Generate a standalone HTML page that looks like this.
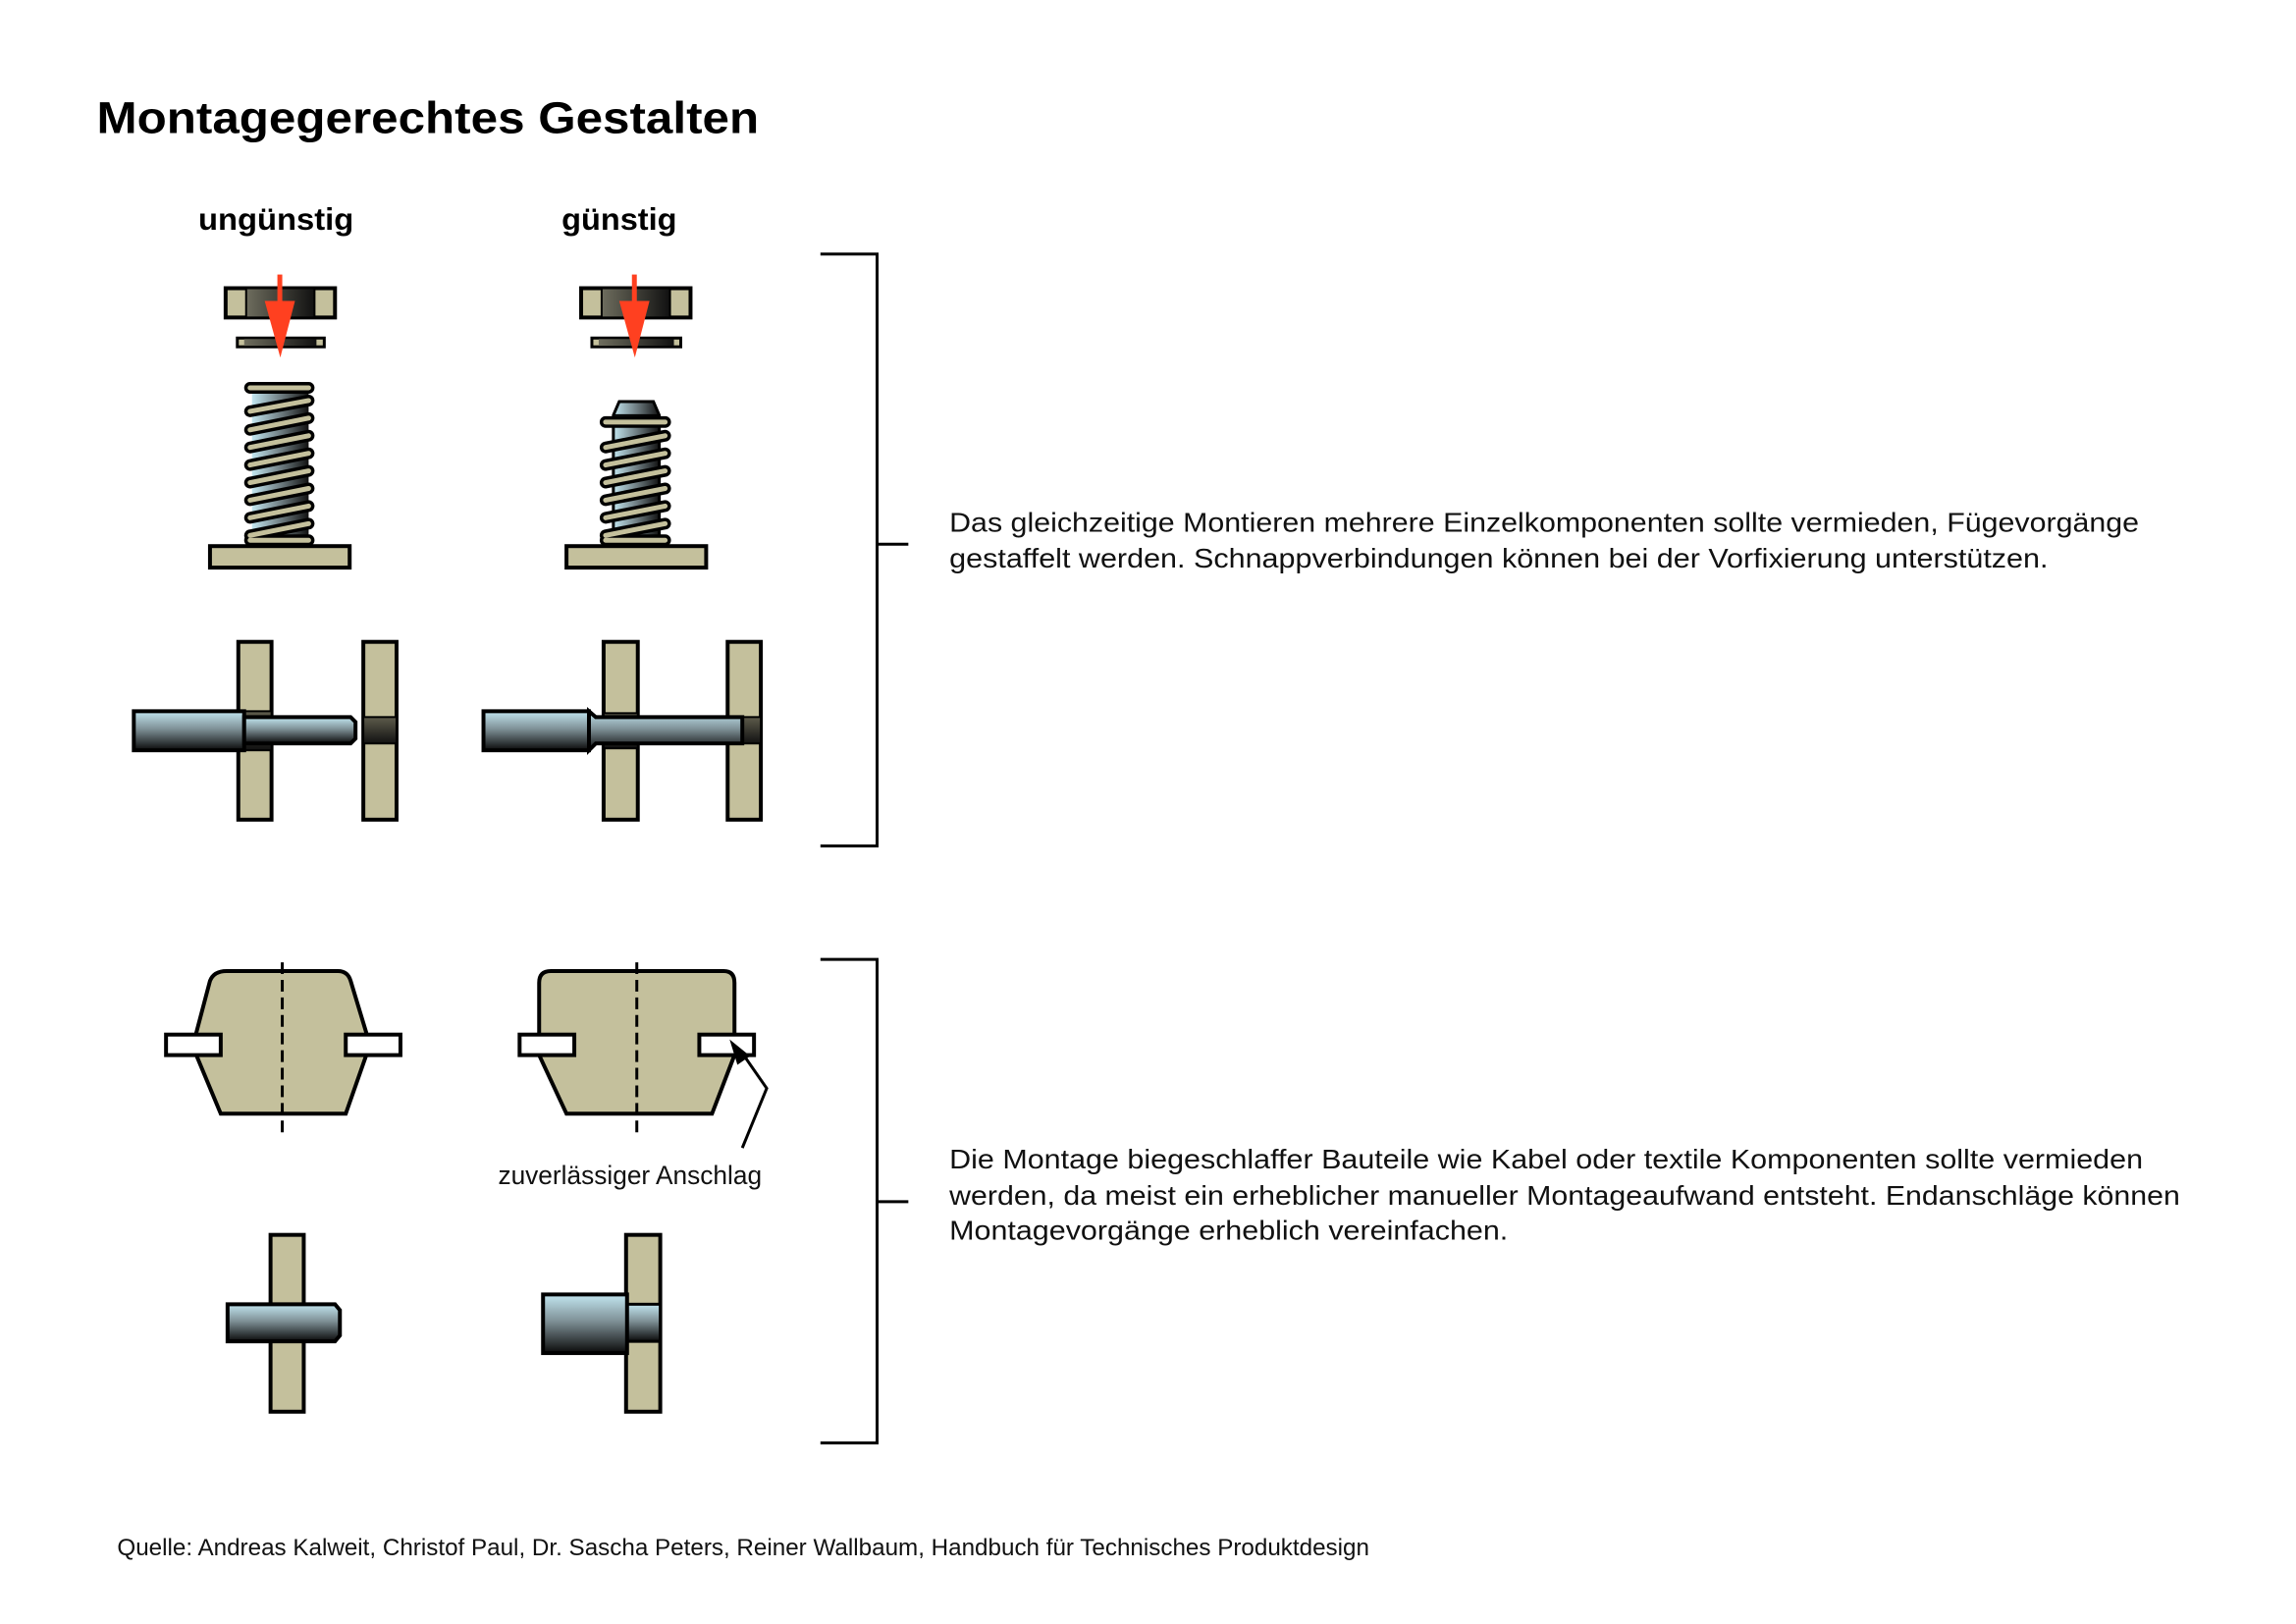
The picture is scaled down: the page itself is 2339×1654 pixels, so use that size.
<!DOCTYPE html>
<html><head><meta charset="utf-8"><style>html,body{margin:0;padding:0;background:#fff}svg{display:block}</style></head>
<body>
<svg width="2339" height="1654" viewBox="0 0 2339 1654" xmlns="http://www.w3.org/2000/svg" font-family="Liberation Sans, sans-serif">
<defs>
<linearGradient id="pin" x1="0" y1="0" x2="0" y2="1"><stop offset="0" stop-color="#c2e6f0"/><stop offset="0.45" stop-color="#7f9197"/><stop offset="1" stop-color="#0a0a0a"/></linearGradient>
<linearGradient id="rod" x1="0" y1="0" x2="1" y2="0"><stop offset="0" stop-color="#c2e6f0"/><stop offset="0.5" stop-color="#707f84"/><stop offset="1" stop-color="#111"/></linearGradient>
<linearGradient id="nut" x1="0" y1="0" x2="1" y2="0"><stop offset="0" stop-color="#6e6d5e"/><stop offset="1" stop-color="#111"/></linearGradient>
<linearGradient id="dk" x1="0" y1="0" x2="0" y2="1"><stop offset="0" stop-color="#5e5c4c"/><stop offset="1" stop-color="#111"/></linearGradient>
</defs>
<g transform="scale(0.995)">
<text x="99" y="136" font-size="46" font-weight="bold" textLength="678" lengthAdjust="spacingAndGlyphs">Montagegerechtes Gestalten</text>
<text x="203" y="235" font-size="32" font-weight="bold" textLength="159" lengthAdjust="spacingAndGlyphs">ungünstig</text>
<text x="575" y="235" font-size="32" font-weight="bold" textLength="118" lengthAdjust="spacingAndGlyphs">günstig</text>

<g stroke="#000" stroke-width="4">
<rect x="231" y="295" width="112" height="30" fill="#c4c09c"/>
<rect x="252" y="295" width="70" height="30" fill="url(#nut)" stroke-width="2"/>
<rect x="243" y="346" width="89" height="9" fill="#c4c09c" stroke-width="3"/>
<rect x="250" y="347" width="74" height="7" fill="url(#nut)" stroke="none"/>
<rect x="595" y="295" width="112" height="30" fill="#c4c09c"/>
<rect x="616" y="295" width="70" height="30" fill="url(#nut)" stroke-width="2"/>
<rect x="606" y="346" width="91" height="9" fill="#c4c09c" stroke-width="3"/>
<rect x="613" y="347" width="77" height="7" fill="url(#nut)" stroke="none"/>
</g>
<g fill="#ff4020" stroke="none">
<rect x="284" y="281" width="5" height="30"/><polygon points="271,308 302,308 287,366"/>
<rect x="647" y="281" width="5" height="30"/><polygon points="634,308 665,308 650,366"/>
</g>

<rect x="258" y="400" width="58" height="155" fill="url(#rod)"/>
<g fill="none" stroke-linecap="round">
<g stroke="#000" stroke-width="12">
<line x1="256" y1="397" x2="316" y2="397"/>
<line x1="256" y1="421" x2="316" y2="410"/>
<line x1="256" y1="440" x2="316" y2="428"/>
<line x1="256" y1="458" x2="316" y2="446"/>
<line x1="256" y1="476" x2="316" y2="464"/>
<line x1="256" y1="494" x2="316" y2="482"/>
<line x1="256" y1="512" x2="316" y2="500"/>
<line x1="256" y1="530" x2="316" y2="518"/>
<line x1="256" y1="548" x2="316" y2="536"/>
<line x1="256" y1="553" x2="316" y2="553"/>
</g>
<g stroke="#c4c09c" stroke-width="5">
<line x1="256" y1="397" x2="316" y2="397"/>
<line x1="256" y1="421" x2="316" y2="410"/>
<line x1="256" y1="440" x2="316" y2="428"/>
<line x1="256" y1="458" x2="316" y2="446"/>
<line x1="256" y1="476" x2="316" y2="464"/>
<line x1="256" y1="494" x2="316" y2="482"/>
<line x1="256" y1="512" x2="316" y2="500"/>
<line x1="256" y1="530" x2="316" y2="518"/>
<line x1="256" y1="548" x2="316" y2="536"/>
<line x1="256" y1="553" x2="316" y2="553"/>
</g>
</g>
<rect x="215" y="559" width="143" height="22" fill="#c4c09c" stroke="#000" stroke-width="4"/>

<polygon points="628,425 634,411 669,411 675,425 675,555 628,555" fill="url(#rod)" stroke="#000" stroke-width="3"/>
<line x1="628" y1="425" x2="675" y2="425" stroke="#000" stroke-width="2"/>
<g fill="none" stroke-linecap="round">
<g stroke="#000" stroke-width="12">
<line x1="620" y1="432" x2="681" y2="432"/>
<line x1="620" y1="458" x2="681" y2="446"/>
<line x1="620" y1="476" x2="681" y2="464"/>
<line x1="620" y1="494" x2="681" y2="482"/>
<line x1="620" y1="512" x2="681" y2="500"/>
<line x1="620" y1="530" x2="681" y2="518"/>
<line x1="620" y1="548" x2="681" y2="536"/>
<line x1="620" y1="553" x2="681" y2="553"/>
</g>
<g stroke="#c4c09c" stroke-width="5">
<line x1="620" y1="432" x2="681" y2="432"/>
<line x1="620" y1="458" x2="681" y2="446"/>
<line x1="620" y1="476" x2="681" y2="464"/>
<line x1="620" y1="494" x2="681" y2="482"/>
<line x1="620" y1="512" x2="681" y2="500"/>
<line x1="620" y1="530" x2="681" y2="518"/>
<line x1="620" y1="548" x2="681" y2="536"/>
<line x1="620" y1="553" x2="681" y2="553"/>
</g>
</g>
<rect x="580" y="559" width="143" height="22" fill="#c4c09c" stroke="#000" stroke-width="4"/>

<g stroke="#000" stroke-width="4">
<rect x="244" y="657" width="34" height="182" fill="#c4c09c"/>
<rect x="372" y="657" width="34" height="182" fill="#c4c09c"/>
<rect x="244" y="728" width="34" height="40" fill="url(#dk)" stroke-width="2"/>
<rect x="372" y="734" width="34" height="27" fill="url(#dk)" stroke-width="2"/>
<rect x="137" y="728" width="113" height="40" fill="url(#pin)"/>
<path d="M250,734 H359 L364,739 V756 L359,761 H250 Z" fill="url(#pin)"/>
<rect x="618" y="657" width="35" height="182" fill="#c4c09c"/>
<rect x="745" y="657" width="34" height="182" fill="#c4c09c"/>
<rect x="618" y="730" width="35" height="36" fill="url(#dk)" stroke-width="2"/>
<rect x="758" y="734" width="21" height="27" fill="url(#dk)" stroke-width="2"/>
<rect x="495" y="728" width="108" height="40" fill="url(#pin)"/>
<path d="M603,728 L610,734 H760 V761 H610 L603,768 Z" fill="url(#pin)"/>
</g>

<path d="M840,260 H898 V866 H840 M898,557 H930" fill="none" stroke="#000" stroke-width="3"/>
<text font-size="28" fill="#111"><tspan x="972" y="544" textLength="1218" lengthAdjust="spacingAndGlyphs">Das gleichzeitige Montieren mehrere Einzelkomponenten sollte vermieden, Fügevorgänge</tspan><tspan x="972" y="581" textLength="1125" lengthAdjust="spacingAndGlyphs">gestaffelt werden. Schnappverbindungen können bei der Vorfixierung unterstützen.</tspan></text>

<g stroke="#000" stroke-width="4">
<path d="M232,994 H346 Q356,994 359,1004 L375,1057 L375,1080 L354,1140 H226 L201,1080 V1057 L215,1004 Q219,994 232,994 Z" fill="#c4c09c"/>
<rect x="170" y="1059" width="56" height="21" fill="#fff"/>
<rect x="354" y="1059" width="56" height="21" fill="#fff"/>
<path d="M564,994 H741 Q752,994 752,1006 V1080 L729,1140 H580 L552,1080 V1006 Q552,994 564,994 Z" fill="#c4c09c"/>
<rect x="532" y="1059" width="56" height="21" fill="#fff"/>
<rect x="716" y="1059" width="56" height="21" fill="#fff"/>
</g>
<line x1="289" y1="985" x2="289" y2="1160" stroke="#000" stroke-width="3" stroke-dasharray="12,6"/>
<line x1="652" y1="985" x2="652" y2="1160" stroke="#000" stroke-width="3" stroke-dasharray="12,6"/>
<polyline points="760,1175 785,1114 760,1078" fill="none" stroke="#000" stroke-width="3"/>
<polygon points="747,1064 768,1081 755,1090" fill="#000"/>
<text x="510" y="1212" font-size="27" fill="#111" textLength="270" lengthAdjust="spacingAndGlyphs">zuverlässiger Anschlag</text>

<g stroke="#000" stroke-width="4">
<rect x="277" y="1264" width="34" height="181" fill="#c4c09c"/>
<path d="M233,1335 H343 L348,1341 V1367 L343,1373 H233 Z" fill="url(#pin)"/>
<rect x="641" y="1264" width="35" height="181" fill="#c4c09c"/>
<rect x="641" y="1335" width="35" height="38" fill="url(#pin)" stroke-width="3"/>
<rect x="556" y="1325" width="86" height="60" fill="url(#pin)"/>
</g>

<path d="M840,982 H898 V1477 H840 M898,1230 H930" fill="none" stroke="#000" stroke-width="3"/>
<text font-size="28" fill="#111"><tspan x="972" y="1196" textLength="1222" lengthAdjust="spacingAndGlyphs">Die Montage biegeschlaffer Bauteile wie Kabel oder textile Komponenten sollte vermieden</tspan><tspan x="972" y="1233" textLength="1260" lengthAdjust="spacingAndGlyphs">werden, da meist ein erheblicher manueller Montageaufwand entsteht. Endanschläge können</tspan><tspan x="972" y="1269" textLength="572" lengthAdjust="spacingAndGlyphs">Montagevorgänge erheblich vereinfachen.</tspan></text>

<text x="120" y="1592" font-size="24" fill="#111" textLength="1282" lengthAdjust="spacingAndGlyphs">Quelle: Andreas Kalweit, Christof Paul, Dr. Sascha Peters, Reiner Wallbaum, Handbuch für Technisches Produktdesign</text>
</g>
</svg>
</body></html>
